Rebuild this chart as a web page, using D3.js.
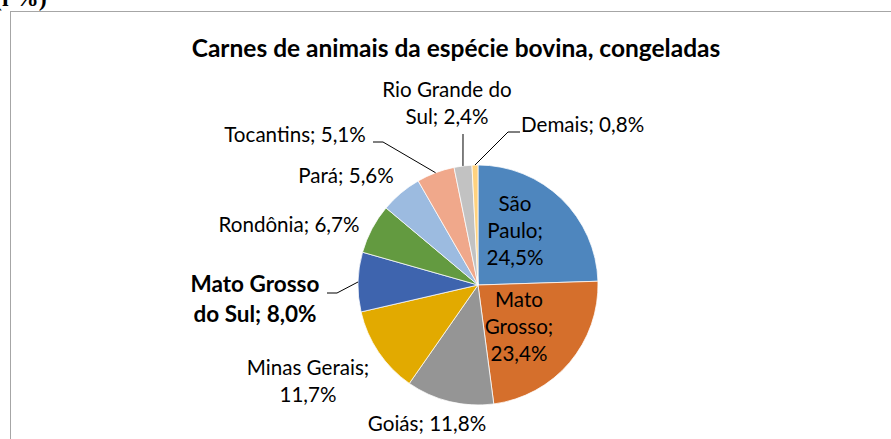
<!DOCTYPE html>
<html>
<head>
<meta charset="utf-8">
<script src="https://cdn.jsdelivr.net/npm/d3@7"></script>
<style>
  body { margin: 0; background: #fff; }
  text { font-family: Lato, "Open Sans", sans-serif; fill: #000; }
</style>
</head>
<body>
<div id="chart"></div>
<script>
// chart values
const states = ["São Paulo", "Mato Grosso", "Goiás", "Minas Gerais", "Mato Grosso do Sul",
                "Rondônia", "Pará", "Tocantins", "Rio Grande do Sul", "Demais"];
const shares = [24.5, 23.4, 11.8, 11.7, 8.0, 6.7, 5.6, 5.1, 2.4, 0.8];
const colors = ["#4e86be", "#d56f2c", "#959595", "#e2aa00", "#3e64ae",
                "#639a40", "#9cbbe0", "#f0a88b", "#c2c2c2", "#ffd27f"];
const title = "Carnes de animais da espécie bovina, congeladas";

// label layout (text lines, anchor point, optional leader elbow)
const labelLines = [
  ["São", "Paulo;", "24,5%"],
  ["Mato", "Grosso;", "23,4%"],
  ["Goiás; 11,8%"],
  ["Minas Gerais;", "11,7%"],
  ["Mato Grosso", "do Sul; 8,0%"],
  ["Rondônia; 6,7%"],
  ["Pará; 5,6%"],
  ["Tocantins; 5,1%"],
  ["Rio Grande do", "Sul; 2,4%"],
  ["Demais; 0,8%"]
];
const labelPos = [
  {x: 515, y: 211, anchor: "middle"},
  {x: 519, y: 307, anchor: "middle"},
  {x: 427, y: 431, anchor: "middle"},
  {x: 308, y: 375, anchor: "middle"},
  {x: 255, y: 292, anchor: "middle", bold: true, elbow: [[327, 293], [337, 293]]},
  {x: 289, y: 232, anchor: "middle"},
  {x: 346, y: 183, anchor: "middle"},
  {x: 295, y: 142, anchor: "middle", elbow: [[373, 142], [383, 142]]},
  {x: 447, y: 97, anchor: "middle", elbow: [[463, 134]]},
  {x: 521, y: 132, anchor: "start", elbow: [[520, 132], [508, 132]]}
];

const width = 891, height = 439;
const cx = 478, cy = 285, radius = 120;
const lineH = 27;

const svg = d3.select("#chart").append("svg")
    .attr("width", width)
    .attr("height", height);

// clipped heading from the page above the chart
svg.append("text")
    .attr("x", -6)
    .attr("y", 6)
    .style("font-family", "'Liberation Serif', serif")
    .style("font-weight", "bold")
    .style("font-size", "24px")
    .text("(l %)");

// chart frame (runs past the window on right and bottom)
svg.append("rect")
    .attr("x", 10.5)
    .attr("y", 11.5)
    .attr("width", 1000)
    .attr("height", 600)
    .attr("fill", "none")
    .attr("stroke", "#a6a6a6")
    .attr("stroke-width", 1);

svg.append("text")
    .attr("x", 456)
    .attr("y", 57)
    .attr("text-anchor", "middle")
    .style("font-weight", "bold")
    .style("font-size", "24.5px")
    .text(title);

const data = states.map((s, i) => ({state: s, value: shares[i], color: colors[i], lines: labelLines[i], pos: labelPos[i]}));

const pie = d3.pie().sort(null).value(d => d.value);
const arc = d3.arc().innerRadius(0).outerRadius(radius);
const arcs = pie(data);

const g = svg.append("g").attr("transform", `translate(${cx},${cy})`);

g.selectAll("path")
    .data(arcs)
    .join("path")
    .attr("d", arc)
    .attr("fill", d => d.data.color)
    .attr("stroke", "#fff")
    .attr("stroke-width", 0.75);

// leader lines from slice edge to label
const edge = d => {
    const a = (d.startAngle + d.endAngle) / 2;
    return [cx + radius * Math.sin(a), cy - radius * Math.cos(a)];
};

svg.append("g")
    .selectAll("path")
    .data(arcs.filter(d => d.data.pos.elbow))
    .join("path")
    .attr("fill", "none")
    .attr("stroke", "#000")
    .attr("stroke-width", 1)
    .attr("d", d => d3.line()([...d.data.pos.elbow, edge(d)]));

const labels = svg.append("g")
    .selectAll("text")
    .data(arcs)
    .join("text")
    .attr("text-anchor", d => d.data.pos.anchor)
    .style("font-size", d => d.data.pos.bold ? "22.5px" : "20.6px")
    .style("font-weight", d => d.data.pos.bold ? "bold" : "normal");

labels.selectAll("tspan")
    .data(d => d.data.lines.map((l, i) => ({l, i, p: d.data.pos})))
    .join("tspan")
    .attr("x", d => d.p.x)
    .attr("y", d => d.p.y + d.i * (d.p.bold ? 30 : lineH))
    .text(d => d.l);
</script>
</body>
</html>
